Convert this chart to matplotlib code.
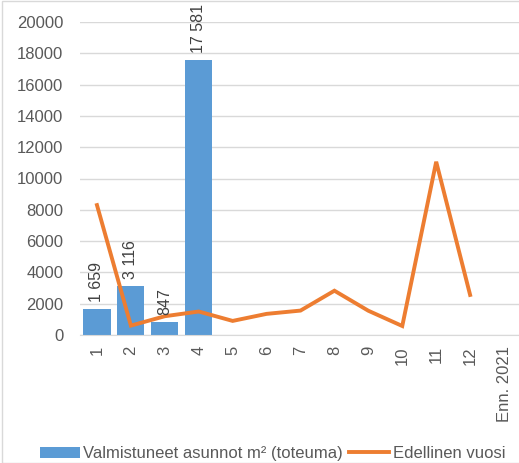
import matplotlib.pyplot as plt
import numpy as np

# categories and values
categories = ["1", "2", "3", "4", "5", "6", "7", "8", "9", "10", "11", "12", "Enn. 2021"]
actual = [1659, 3116, 847, 17581]
previous_year = [8300, 600, 1200, 1500, 900, 1350, 1560, 2830, 1550, 575, 11070, 2560]
y_ticks = [0, 2000, 4000, 6000, 8000, 10000, 12000, 14000, 16000, 18000, 20000]

BLUE = "#5B9BD5"
ORANGE = "#ED7D31"
GRID = "#D9D9D9"
TEXT = "#595959"

plt.rcParams["font.family"] = ["Liberation Sans", "DejaVu Sans"]

fig = plt.figure(figsize=(5.19, 4.63), dpi=100)
ax = fig.add_axes([80 / 519, 1 - 335 / 463, 441 / 519, 313 / 463])

x = np.arange(len(categories))
bars = ax.bar(x[: len(actual)], actual, width=0.8, color=BLUE,
              label="Valmistuneet asunnot m² (toteuma)", zorder=2)
(line,) = ax.plot(x[: len(previous_year)], previous_year, color=ORANGE, linewidth=2.8,
                  solid_joinstyle="miter", label="Edellinen vuosi", zorder=3)

# data labels above the bars, rotated like in the source
for rect, v in zip(bars, actual):
    ax.annotate(f"{v:,}".replace(",", " "),
                (rect.get_x() + rect.get_width() / 2, rect.get_height()),
                xytext=(0, 5), textcoords="offset points",
                rotation=90, ha="center", va="bottom", fontsize=11.5, color="#404040")

ax.set_xlim(-0.5, len(categories) - 0.5)
ax.set_ylim(0, 20000)
ax.set_yticks(y_ticks)
ax.set_xticks(x)
ax.set_xticklabels(categories, rotation=90)
ax.tick_params(axis="y", length=0, labelsize=12, colors=TEXT, pad=12)
ax.tick_params(axis="x", length=0, labelsize=12, colors=TEXT, pad=8)

ax.grid(axis="y", color=GRID, linewidth=1, zorder=0)
ax.set_axisbelow(True)
for side in ["left", "right", "top"]:
    ax.spines[side].set_visible(False)
ax.spines["bottom"].set_color(GRID)

fig.legend(handles=[bars, line], loc="lower center", bbox_to_anchor=(0.525, -0.025),
           ncol=2, frameon=False, fontsize=12, labelcolor=TEXT, handlelength=2.4,
           handletextpad=0.2, columnspacing=0.4, borderpad=0.3)

# light frame around the chart area
fig.patches.append(plt.Rectangle((0.004, 0), 1.2, 0.998, transform=fig.transFigure,
                                 fill=False, edgecolor=GRID, linewidth=1))

fig.savefig("out.png", dpi=100)
